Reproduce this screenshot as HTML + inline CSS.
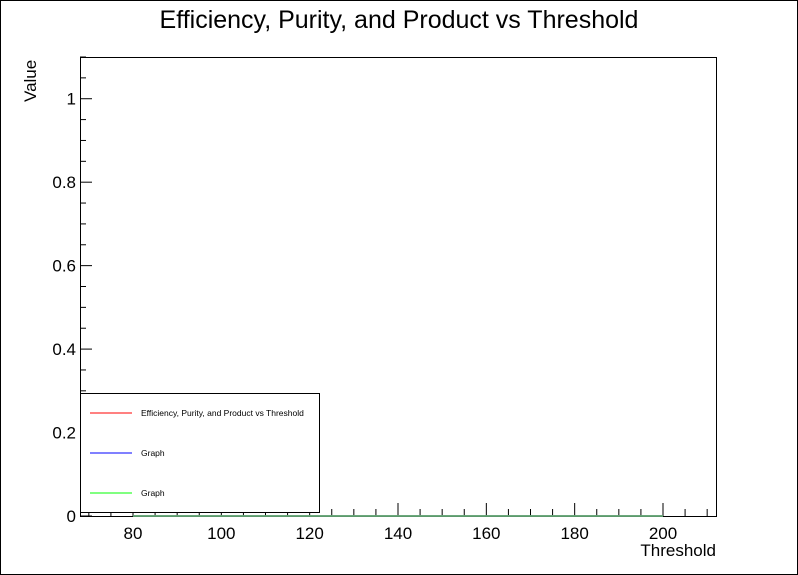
<!DOCTYPE html>
<html><head><meta charset="utf-8"><style>
body{margin:0;background:#fff;font-family:"Liberation Sans",sans-serif}
svg{display:block}
</style></head><body>
<svg width="798" height="575">
<rect x="0.5" y="0.5" width="797" height="574" fill="#fff" stroke="#000"/>
<text x="399" y="28" font-size="25" text-anchor="middle">Efficiency, Purity, and Product vs Threshold</text>
<g id="axes"></g>
<g id="series"></g>
<text x="716" y="556" font-size="17" text-anchor="end">Threshold</text>
<text transform="translate(36,102) rotate(-90)" font-size="17">Value</text>
<g>
<rect x="80.5" y="393.5" width="239" height="119" fill="#fff" stroke="#000"/>
<line x1="90" y1="413" x2="132" y2="413" stroke="#f00"/>
<text x="141" y="416" font-size="8.5">Efficiency, Purity, and Product vs Threshold</text>
<line x1="90" y1="453" x2="132" y2="453" stroke="#00f"/>
<text x="141" y="456" font-size="8.5">Graph</text>
<line x1="90" y1="493" x2="132" y2="493" stroke="#0f0"/>
<text x="141" y="496" font-size="8.5">Graph</text>
</g>
</svg>
<script>
const xTicks=[80,100,120,140,160,180,200];
const yTicks=[0,0.2,0.4,0.6,0.8,1];
const yTickLabels=["0","0.2","0.4","0.6","0.8","1"];
const thresholds=[80,200];
const redValues=[0,0];
const blueValues=[0,0];
const greenValues=[0,0];
const X0=80,X1=716,Y0=516,Y1=57,xmin=68,xmax=212,ymin=0,ymax=1.1;
const sx=v=>X0+(v-xmin)/(xmax-xmin)*(X1-X0);
const sy=v=>Y0-(v-ymin)/(ymax-ymin)*(Y0-Y1);
const NS="http://www.w3.org/2000/svg";
const ax=document.getElementById('axes');
function mk(t,a,p){const e=document.createElementNS(NS,t);for(const k in a)e.setAttribute(k,a[k]);(p||ax).appendChild(e);return e;}
const fr=mk('rect',{x:X0+.5,y:Y1+.5,width:X1-X0,height:Y0-Y1,fill:'none',stroke:'#000'});


for(let v=70;v<=xmax;v+=5){const maj=v%20===0;const x=sx(v);
const t=mk('line',{x1:x,x2:x,y1:Y0,y2:Y0-(maj?13:7),stroke:'#000'});

}
xTicks.forEach(v=>{const t=mk('text',{x:sx(v),y:Y0+23,'font-size':17,'text-anchor':'middle'});t.textContent=v;

});
for(let i=0;i*0.05<=ymax+1e-9;i++){const v=i*0.05;const maj=i%4===0;const y=sy(v);
const t=mk('line',{x1:X0,x2:X0+(maj?12:6),y1:y,y2:y,stroke:'#000'});

}
yTicks.forEach((v,i)=>{const t=mk('text',{x:X0-4,y:sy(v)+6,'font-size':17,'text-anchor':'end'});t.textContent=yTickLabels[i];

});
const sg=document.getElementById('series');
[[redValues,'#f00','series-efficiency'],[blueValues,'#00f','series-graph-blue'],[greenValues,'#6c6','series-graph-green']].forEach(([vals,c,n])=>{
const p=mk('polyline',{points:thresholds.map((t,i)=>sx(t)+','+sy(vals[i])).join(' '),fill:'none',stroke:c,'stroke-width':1.5},sg);

});
</script>
</body></html>
